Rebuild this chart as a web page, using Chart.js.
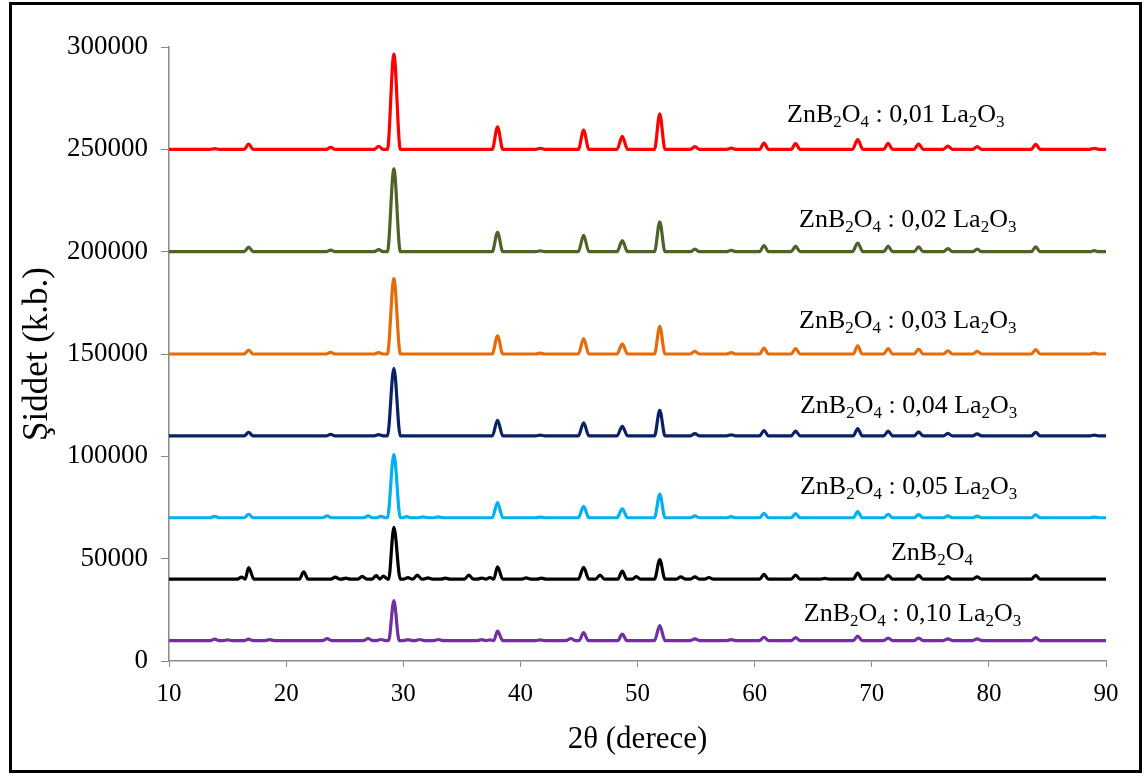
<!DOCTYPE html>
<html>
<head>
<meta charset="utf-8">
<script src="https://cdn.jsdelivr.net/npm/chart.js@4.4.1/dist/chart.umd.min.js"></script>
<style>
html,body{margin:0;padding:0;background:#fff;}
#wrap{position:relative;width:1147px;height:778px;}
</style>
</head>
<body>
<div id="wrap"><canvas id="c"></canvas></div>
<script>
// ---- tick labels ----
const xTickValues = [10, 20, 30, 40, 50, 60, 70, 80, 90];
const yTickValues = [0, 50000, 100000, 150000, 200000, 250000, 300000];

// ---- series names / labels ----
const seriesNames = [
  'ZnB_2O_4 : 0,01 La_2O_3',
  'ZnB_2O_4 : 0,02 La_2O_3',
  'ZnB_2O_4 : 0,03 La_2O_3',
  'ZnB_2O_4 : 0,04 La_2O_3',
  'ZnB_2O_4 : 0,05 La_2O_3',
  'ZnB_2O_4',
  'ZnB_2O_4 : 0,10 La_2O_3'
];

// ---- baselines (intensity offsets) ----
const baselines = [250000, 200000, 150000, 110000, 70000, 40000, 10000];

// ---- peaks: [2theta, intensity at peak top] ----
const peaks001 = [[13.9,250300],[16.8,252600],[23.8,251000],[27.9,251500],[29.2,296500],[38.05,261000],[41.7,250500],[45.4,259400],[48.7,256300],[51.9,267300],[54.9,251300],[58.0,250600],[60.8,253000],[63.5,252800],[68.8,254700],[71.4,252900],[74.0,252700],[76.5,251600],[79.0,251300],[84.0,252400],[89.0,250500]];
const peaks002 = [[16.8,202200],[23.8,200800],[27.9,201000],[29.2,240500],[38.05,209400],[41.7,200400],[45.4,208000],[48.7,205400],[51.9,214600],[54.9,201200],[58.0,200600],[60.8,203000],[63.5,202700],[68.8,204200],[71.4,202700],[74.0,202400],[76.5,201500],[79.0,201200],[84.0,202300],[89.0,200500]];
const peaks003 = [[16.8,151900],[23.8,150800],[27.9,150700],[29.2,186800],[38.05,158900],[41.7,150400],[45.4,157500],[48.7,154900],[51.9,163500],[54.9,151300],[58.0,150700],[60.8,152900],[63.5,152600],[68.8,154000],[71.4,152600],[74.0,152400],[76.5,151600],[79.0,151300],[84.0,152100],[89.0,150400]];
const peaks004 = [[16.8,111700],[23.8,110700],[27.9,110600],[29.2,143000],[38.05,117600],[41.7,110400],[45.4,116400],[48.7,114700],[51.9,122500],[54.9,111100],[58.0,110500],[60.8,112600],[63.5,112300],[68.8,113600],[71.4,112300],[74.0,112000],[76.5,111200],[79.0,111000],[84.0,111700],[89.0,110400]];
const peaks005 = [[13.9,70700],[16.8,71700],[23.5,70900],[27.0,70900],[28.1,70700],[29.2,101000],[30.3,70500],[31.7,70400],[33.0,70400],[38.05,77400],[41.7,70300],[45.4,75600],[48.7,74300],[51.9,81500],[54.9,70900],[58.0,70500],[60.8,72100],[63.5,72000],[68.8,73000],[71.4,71700],[74.0,71500],[76.5,70900],[79.0,70800],[84.0,71400],[89.0,70300]];
const peaksPure = [[16.2,41000],[16.8,45600],[21.5,43500],[24.2,41000],[25.1,40500],[26.5,41300],[27.7,41700],[28.3,41500],[29.2,65300],[30.4,40700],[31.2,42000],[32.1,40600],[33.6,40500],[35.6,42000],[36.7,40500],[37.4,40800],[38.05,46000],[40.5,40600],[41.8,40500],[45.4,45800],[46.8,42000],[48.7,43900],[49.9,41200],[51.9,49500],[53.7,41100],[54.9,41100],[56.1,40800],[60.8,42300],[63.5,42000],[66.0,40400],[68.8,43000],[71.4,41900],[74.0,41800],[76.5,41200],[79.0,41100],[84.0,41900]];
const peaks010 = [[13.9,10700],[15.0,10300],[16.8,10700],[18.6,10400],[23.5,10900],[27.0,11000],[28.1,10500],[29.2,29500],[30.4,10400],[31.4,10500],[33.0,10500],[36.7,10400],[37.4,10300],[38.05,14600],[41.7,10300],[44.3,11000],[45.4,13900],[48.7,13200],[51.9,17300],[54.9,10800],[58.0,10400],[60.8,11600],[63.5,11400],[68.8,12200],[71.4,11200],[74.0,11200],[76.5,10800],[79.0,10800],[84.0,11400]];

const allPeaks = [peaks001, peaks002, peaks003, peaks004, peaks005, peaksPure, peaks010];

// ---- styling (kept separate from data) ----
const colors = ['#FF0000', '#4F6228', '#E46C0A', '#0A2265', '#00B0F0', '#000000', '#7030A0'];
const labelPos = [[62.77,263200],[63.79,212100],[63.79,162600],[63.87,121000],[63.87,81800],[71.64,49300],[64.2,19300]];
const SERIF = '"Liberation Serif", "Times New Roman", serif';

function buildSeries(base, peaks) {
  const pts = [{x: 10, y: base}];
  peaks.forEach(([p, top], i) => {
    const h = top - base;
    const hw = h > 20000 ? 0.55 : (h > 4000 ? 0.45 : 0.38);
    const prev = i > 0 ? peaks[i - 1][0] : 10;
    const next = i < peaks.length - 1 ? peaks[i + 1][0] : 90;
    const lx = Math.max(p - hw, (prev + p) / 2);
    const rx = Math.min(p + hw, (p + next) / 2);
    if (lx > pts[pts.length - 1].x) pts.push({x: lx, y: base});
    pts.push({x: p, y: top});
    pts.push({x: rx, y: base});
  });
  if (pts[pts.length - 1].x < 90) pts.push({x: 90, y: base});
  return pts;
}

const datasets = allPeaks.map((pk, i) => ({
  label: seriesNames[i].replace(/_/g, ''),
  data: buildSeries(baselines[i], pk),
  borderColor: colors[i],
  backgroundColor: colors[i],
  borderWidth: 3.2,
  pointRadius: 0,
  fill: false,
  cubicInterpolationMode: 'monotone'
}));

const decoPlugin = {
  id: 'deco',
  afterDraw(chart) {
    const ctx = chart.ctx;
    const xs = chart.scales.x, ys = chart.scales.y;
    ctx.save();
    ctx.fillStyle = '#000';
    ctx.textBaseline = 'alphabetic';
    ctx.textAlign = 'left';
    seriesNames.forEach((txt, i) => {
      let px = xs.getPixelForValue(labelPos[i][0]);
      const py = ys.getPixelForValue(labelPos[i][1]);
      let k = 0;
      while (k < txt.length) {
        if (txt[k] === '_') {
          const s = txt[k + 1];
          ctx.font = '17px ' + SERIF;
          ctx.fillText(s, px, py + 5);
          px += ctx.measureText(s).width;
          k += 2;
        } else {
          let j = k;
          while (j < txt.length && txt[j] !== '_') j++;
          const s = txt.slice(k, j);
          ctx.font = '26px ' + SERIF;
          ctx.fillText(s, px, py);
          px += ctx.measureText(s).width;
          k = j;
        }
      }
    });
    ctx.strokeStyle = '#000';
    ctx.lineWidth = 3;
    ctx.strokeRect(10.5, 3.5, 1130, 768);
    ctx.restore();
  }
};

const axisGrey = '#8a8a8a';

new Chart(document.getElementById('c'), {
  type: 'line',
  data: { datasets },
  plugins: [decoPlugin],
  options: {
    responsive: true,
    maintainAspectRatio: false,
    animation: false,
    layout: { padding: { top: 47, right: 41, left: 0, bottom: 0 } },
    plugins: { legend: { display: false }, tooltip: { enabled: false } },
    elements: { line: { borderCapStyle: 'round', borderJoinStyle: 'round' } },
    scales: {
      x: {
        type: 'linear',
        min: 10, max: 90,
        afterBuildTicks: (axis) => { axis.ticks = xTickValues.map(v => ({ value: v })); },
        afterFit: (axis) => { axis.height = 117; },
        ticks: { font: { family: SERIF, size: 25 }, color: '#000', padding: 12, maxRotation: 0, autoSkip: false },
        grid: { drawOnChartArea: false, drawTicks: true, tickLength: 6, color: axisGrey, lineWidth: 1 },
        border: { display: true, color: axisGrey, width: 1.5 },
        title: { display: true, text: '2θ (derece)', color: '#000', font: { family: SERIF, size: 31 }, padding: { top: 0, bottom: 20 } }
      },
      y: {
        type: 'linear',
        min: 0, max: 300000,
        afterBuildTicks: (axis) => { axis.ticks = yTickValues.map(v => ({ value: v })); },
        afterFit: (axis) => { axis.width = 169; },
        ticks: { font: { family: SERIF, size: 27 }, color: '#000', padding: 13, callback: (v) => String(v) },
        grid: { drawOnChartArea: false, drawTicks: true, tickLength: 8, color: axisGrey, lineWidth: 1 },
        border: { display: true, color: axisGrey, width: 1.5 },
        title: { display: true, text: 'Şiddet (k.b.)', color: '#000', font: { family: SERIF, size: 35 }, padding: { top: 17, bottom: 0 } }
      }
    }
  }
});
</script>
</body>
</html>
